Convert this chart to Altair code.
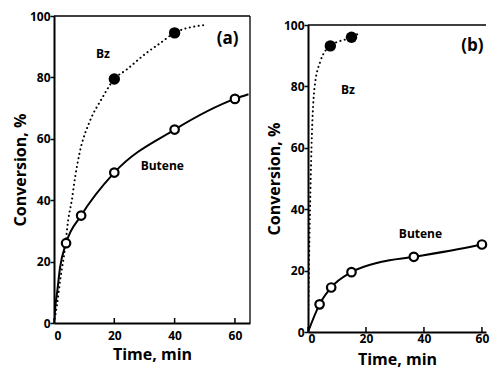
import altair as alt
import pandas as pd

FONT = "Open Sans"

# ---- panel (a) data ----
a_but_t = [4, 9, 20, 40, 60]
a_but_c = [26, 35, 49, 63, 73]
a_bz_t = [20, 40]
a_bz_c = [79.5, 94.5]
a_but_curve_t = [0, 0.4, 1.1, 2, 4, 9, 20, 40, 60, 64.5]
a_but_curve_c = [0, 5, 10.5, 18, 26, 35, 49, 63, 73, 74.5]
a_bz_curve_t = [0, 1, 2.2, 3.6, 4.7, 5.9, 7, 8.4, 12, 15.8, 20, 24, 30.7, 35, 40, 49.5]
a_bz_curve_c = [0, 6, 15, 24, 33.5, 40, 47.5, 55, 66, 73, 79.5, 82.5, 88, 91, 94.5, 97]

# ---- panel (b) data ----
b_but_t = [4, 8, 15, 36.5, 60]
b_but_c = [9, 14.5, 19.5, 24.5, 28.5]
b_bz_t = [7.7, 15]
b_bz_c = [93.2, 96]
b_but_curve_t = [0, 4, 8, 15, 25, 36.5, 60, 61.4]
b_but_curve_c = [0, 9, 14.5, 19.5, 22.8, 24.5, 28.5, 28.8]
b_bz_curve_t = [0, 0.3, 0.7, 1.2, 2.3, 4.2, 7.7, 15, 18]
b_bz_curve_c = [0, 20, 40, 60, 80, 88, 93.2, 96, 97.5]

x_ticks = [0, 20, 40, 60]
y_ticks = [0, 20, 40, 60, 80, 100]

# annotation texts
a_labels = ["Bz", "Butene", "(a)"]
a_label_t = [16.2, 35.9, 57.6]
a_label_c = [87.6, 51.1, 92.5]
a_label_sz = [12, 12, 17]
b_labels = ["Bz", "Butene", "(b)"]
b_label_t = [13.8, 38.8, 56.7]
b_label_c = [78.8, 31.9, 93]
b_label_sz = [12, 12, 17]


def panel(but_t, but_c, bz_t, bz_c, bct, bcc, zct, zcc, labels, lt, lc, lsz,
          xmax, W, H, yrange, lab_pad, title_pad, right_border):
    xs = alt.Scale(domain=[0, xmax], nice=False)
    if yrange is None:
        ys = alt.Scale(domain=[0, 100], nice=False)
    else:
        ys = alt.Scale(domain=[0, 100], nice=False, range=yrange)
    xax = alt.Axis(values=x_ticks, title="Time, min", tickSize=0, labelPadding=lab_pad,
                   titlePadding=title_pad, grid=False, domainWidth=2, domainColor="black",
                   labelFont=FONT, labelFontSize=12, labelFontWeight="bold", labelColor="black",
                   titleFont=FONT, titleFontSize=16, titleFontWeight="bold", titleColor="black")
    yax = alt.Axis(values=y_ticks, title="Conversion, %", tickSize=4, tickWidth=1.5,
                   tickColor="black", labelPadding=0, titlePadding=1, grid=False,
                   domainWidth=2, domainColor="black",
                   labelFont=FONT, labelFontSize=12, labelFontWeight="bold", labelColor="black",
                   titleFont=FONT, titleFontSize=16, titleFontWeight="bold", titleColor="black")

    bcurve = pd.DataFrame({"t": bct, "c": bcc})
    zcurve = pd.DataFrame({"t": zct, "c": zcc})
    bpts = pd.DataFrame({"t": but_t, "c": but_c})
    zpts = pd.DataFrame({"t": bz_t, "c": bz_c})
    lab = pd.DataFrame({"label": labels, "t": lt, "c": lc, "s": lsz})
    ticks = pd.DataFrame({"t": x_ticks})

    base_x = alt.X("t:Q", scale=xs, axis=xax)
    base_y = alt.Y("c:Q", scale=ys, axis=yax)

    solid = alt.Chart(bcurve).mark_line(color="black", strokeWidth=2,
                                        interpolate="monotone", clip=True).encode(
        x=base_x, y=base_y, order="t:Q")
    dotted = alt.Chart(zcurve).mark_line(color="black", strokeWidth=2, strokeDash=[0.1, 4.4],
                                         strokeCap="round", interpolate="monotone",
                                         clip=True).encode(
        x=alt.X("t:Q", scale=xs), y=alt.Y("c:Q", scale=ys), order="t:Q")
    opn = alt.Chart(bpts).mark_point(shape="circle", size=72, filled=True, fill="white",
                                     stroke="black", strokeWidth=2.2, opacity=1).encode(
        x=alt.X("t:Q", scale=xs), y=alt.Y("c:Q", scale=ys))
    fil = alt.Chart(zpts).mark_point(shape="circle", size=130, filled=True,
                                     color="black", opacity=1).encode(
        x=alt.X("t:Q", scale=xs), y=alt.Y("c:Q", scale=ys))
    txt = alt.Chart(lab).mark_text(font=FONT, fontWeight="bold", color="black").encode(
        x=alt.X("t:Q", scale=xs), y=alt.Y("c:Q", scale=ys), text="label:N",
        size=alt.Size("s:Q", scale=None, legend=None))
    xt = alt.Chart(ticks).mark_rule(color="black", strokeWidth=1.5).encode(
        x=alt.X("t:Q", scale=xs), y=alt.value(H), y2=alt.value(H - 5))
    top = alt.Chart(pd.DataFrame({"c": [y_ticks[-1]]})).mark_rule(
        color="black", strokeWidth=1.3).encode(
        y=alt.Y("c:Q", scale=ys), x=alt.value(0), x2=alt.value(W))

    layers = [solid, dotted, opn, fil, txt, xt, top]
    if right_border:
        right = alt.Chart(pd.DataFrame({"t": [xmax]})).mark_rule(
            color="black", strokeWidth=1.3).encode(
            x=alt.X("t:Q", scale=xs), y=alt.value(0), y2=alt.value(H))
        layers.append(right)
    return alt.layer(*layers).properties(width=W, height=H)


pa = panel(a_but_t, a_but_c, a_bz_t, a_bz_c, a_but_curve_t, a_but_curve_c,
           a_bz_curve_t, a_bz_curve_c, a_labels, a_label_t, a_label_c, a_label_sz,
           65, 196, 307, None, 7, 5, True)
pb = panel(b_but_t, b_but_c, b_bz_t, b_bz_c, b_but_curve_t, b_but_curve_c,
           b_bz_curve_t, b_bz_curve_c, b_labels, b_label_t, b_label_c, b_label_sz,
           61.4, 178, 316, [316, 9], 1, 7, False)

chart = alt.hconcat(pa, pb, spacing=15).properties(
    padding={"left": 4, "top": 2, "right": 0, "bottom": 2},
    background="white",
).configure_view(stroke=None)

chart.save("out.html", embed_options={"renderer": "svg", "actions": False})
